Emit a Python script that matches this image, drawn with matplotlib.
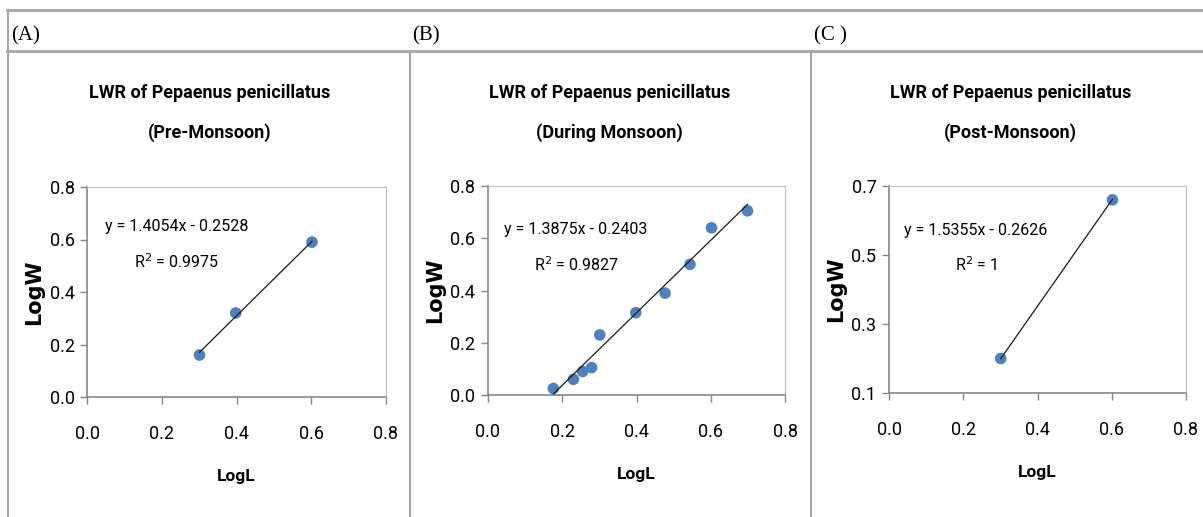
import matplotlib
matplotlib.use('Agg')
import matplotlib.pyplot as plt
from matplotlib.lines import Line2D

# panel labels / titles
panel_labels = ['(A)', '(B)', '(C )']
seasons = ['(Pre-Monsoon)', '(During Monsoon)', '(Post-Monsoon)']
title_main = 'LWR of Pepaenus penicillatus'

# log length / log weight per season
logL_pre = [0.301, 0.398, 0.602]
logW_pre = [0.16, 0.32, 0.59]

logL_during = [0.176, 0.230, 0.255, 0.279, 0.301, 0.398, 0.477, 0.544, 0.602, 0.699]
logW_during = [0.025, 0.06, 0.09, 0.105, 0.23, 0.315, 0.39, 0.50, 0.64, 0.705]

logL_post = [0.301, 0.602]
logW_post = [0.20, 0.66]

# trendline coefficients and R2 as printed on the chart
slopes = [1.4054, 1.3875, 1.5355]
intercepts = [-0.2528, -0.2403, -0.2626]
r2_text = ['0.9975', '0.9827', '1']

xticks = [0.0, 0.2, 0.4, 0.6, 0.8]
yticks_list = [[0.0, 0.2, 0.4, 0.6, 0.8],
               [0.0, 0.2, 0.4, 0.6, 0.8],
               [0.1, 0.3, 0.5, 0.7]]

W, H = 1203, 517
fig = plt.figure(figsize=(W / 100, H / 100), dpi=100)

def fx(px):
    return px / W

def fy(py):
    return 1 - py / H

narrow = ['Roboto', 'DejaVu Sans']
grid_col = '#a6a6a6'

# table frame
fig.add_artist(Line2D([fx(7), 1], [fy(10), fy(10)], color=grid_col, lw=2))
fig.add_artist(Line2D([fx(7), 1], [fy(51), fy(51)], color=grid_col, lw=2))
fig.add_artist(Line2D([fx(8), fx(8)], [fy(10), 0], color=grid_col, lw=1.5))
fig.add_artist(Line2D([fx(410), fx(410)], [fy(51), 0], color=grid_col, lw=1.5))
fig.add_artist(Line2D([fx(811), fx(811)], [fy(51), 0], color=grid_col, lw=1.5))

# plot area boxes in pixels: left, right, top, bottom
boxes = [(87, 386, 187, 397), (488, 785, 186, 395), (889, 1186, 186, 393)]
label_x = [11, 412, 814]
data = [(logL_pre, logW_pre), (logL_during, logW_during), (logL_post, logW_post)]
eq_pos = [(0.24, 0.648, 0.514), (0.237, 0.632, 0.498), (0.234, 0.572, 0.471)]

for i in range(3):
    l, r, t, b = boxes[i]
    ax = fig.add_axes([fx(l), fy(b), fx(r) - fx(l), fy(t) - fy(b)])
    xs, ys = data[i]
    ax.scatter(xs, ys, s=70, color='#4f81bd', zorder=3, edgecolors='none')
    x0, x1 = min(xs), max(xs)
    ax.plot([x0, x1], [slopes[i] * x0 + intercepts[i], slopes[i] * x1 + intercepts[i]],
            color='#1a1a1a', lw=0.9, zorder=4)
    yt = yticks_list[i]
    ax.set_xlim(0, 0.8)
    ax.set_ylim(yt[0], yt[-1])
    ax.set_xticks(xticks)
    ax.set_yticks(yt)
    ax.set_xticklabels(['%.1f' % v for v in xticks], family=narrow, fontsize=13)
    ax.set_yticklabels(['%.1f' % v for v in yt], family=narrow, fontsize=13)
    ax.tick_params(direction='out', length=5, color='#868686', width=1, pad=4)
    ax.tick_params(axis='x', pad=15)
    for s in ['top', 'right']:
        ax.spines[s].set_color('#c0c0c0')
    for s in ['left', 'bottom']:
        ax.spines[s].set_color('#868686')
        ax.spines[s].set_linewidth(1.2)

    ex, ey1, ey2 = eq_pos[i]
    ax.text(ex, ey1, 'y = %.4fx - %.4f' % (slopes[i], -intercepts[i]),
            family=narrow, fontsize=11.5, ha='center', va='center')
    ax.text(ex, ey2, 'R$^2$ = ' + r2_text[i], family=narrow, fontsize=11.5,
            ha='center', va='center')

    ax.set_xlabel('LogL', family=narrow, fontsize=12.5, fontweight='bold', labelpad=19)
    ax.set_ylabel('LogW', family='DejaVu Sans', fontsize=15, fontweight='bold', labelpad=4)

    cx = (l + r) / 2 - 27
    fig.text(fx(cx), fy(93), title_main, family=narrow, fontsize=13,
             fontweight='bold', ha='center', va='center')
    fig.text(fx(cx), fy(133), seasons[i], family=narrow, fontsize=13,
             fontweight='bold', ha='center', va='center')
    fig.text(fx(label_x[i]), fy(36), panel_labels[i], family=['Liberation Serif', 'DejaVu Serif'],
             fontsize=15, ha='left', va='center')

fig.savefig('out.png', dpi=100)
